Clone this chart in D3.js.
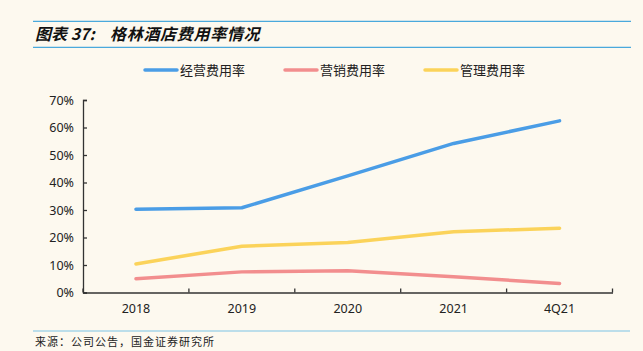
<!DOCTYPE html>
<html>
<head>
<meta charset="utf-8">
<script src="https://cdn.jsdelivr.net/npm/d3@7"></script>
<style>
  body { margin: 0; background: #fdf9ef; }
  svg { display: block; font-family: "Noto Sans CJK SC", "Noto Sans", sans-serif; }
</style>
</head>
<body>
<div id="chart"></div>
<script>
// 格林酒店费用率
const periods = ["2018", "2019", "2020", "2021", "4Q21"];
const opRate = [30.3, 30.8, 42.4, 54.2, 62.4];     // 经营费用率
const salesRate = [5.0, 7.5, 7.9, 5.7, 3.3];       // 营销费用率
const adminRate = [10.4, 16.8, 18.2, 22.1, 23.4];  // 管理费用率
const yTickValues = [0, 10, 20, 30, 40, 50, 60, 70];

const series = [
  { name: "经营费用率", values: opRate, color: "#4a9de6" },
  { name: "营销费用率", values: salesRate, color: "#f28e8e" },
  { name: "管理费用率", values: adminRate, color: "#fbd35a" }
];

const width = 643, height = 351;
const plotLeft = 83, plotRight = 612.5, plotTop = 100, plotBottom = 292.5;

const svg = d3.select('#chart').append('svg')
  .attr('width', width)
  .attr('height', height);

svg.append('rect').attr('width', width).attr('height', height).attr('fill', '#fdf9ef');

// title + rules
svg.append('line').attr('x1', 33).attr('x2', 631).attr('y1', 21.3).attr('y2', 21.3)
  .attr('stroke', '#4aa9dc').attr('stroke-width', 1.2);
svg.append('line').attr('x1', 33).attr('x2', 631).attr('y1', 47.3).attr('y2', 47.3)
  .attr('stroke', '#4aa9dc').attr('stroke-width', 1.2);
svg.append('text')
  .attr('x', 35).attr('y', 40)
  .attr('font-size', 16).attr('font-weight', 'bold').attr('font-style', 'italic')
  .attr('fill', '#111')
  .text('图表 37:');
svg.append('text')
  .attr('x', 110).attr('y', 40)
  .attr('font-size', 16).attr('font-weight', 'bold').attr('font-style', 'italic')
  .attr('letter-spacing', 0.7)
  .attr('fill', '#111')
  .text('格林酒店费用率情况');

// scales
const y = d3.scaleLinear().domain([0, 70]).range([plotBottom, plotTop]);
const xBand = d3.scaleBand().domain(periods).range([plotLeft, plotRight]);

// axes
const yAxis = d3.axisLeft(y).tickValues(yTickValues).tickFormat(d => d + '%').tickSize(-4).tickPadding(9);
const gy = svg.append('g').attr('transform', `translate(${plotLeft},0)`).call(yAxis);
gy.select('.domain').attr('stroke', '#333').attr('stroke-width', 1.3);
gy.selectAll('.tick line').attr('stroke', '#333').attr('stroke-width', 1.3);
gy.selectAll('text').attr('font-size', 12.5).attr('fill', '#222').attr('font-family', '"Noto Sans", sans-serif');

const xAxis = d3.axisBottom(xBand).tickSize(0).tickPadding(12);
const gx = svg.append('g').attr('transform', `translate(0,${plotBottom})`).call(xAxis);
gx.select('.domain').attr('stroke', '#333').attr('stroke-width', 1.3);
gx.selectAll('text').attr('font-size', 12.5).attr('fill', '#222').attr('font-family', '"Noto Sans", sans-serif');

// band boundary ticks pointing up
const bounds = periods.map(p => xBand(p)).concat([xBand(periods[periods.length - 1]) + xBand.bandwidth()]);
svg.append('g').selectAll('line')
  .data(bounds).enter()
  .append('line')
  .attr('x1', d => d).attr('x2', d => d)
  .attr('y1', plotBottom).attr('y2', plotBottom - 4)
  .attr('stroke', '#333').attr('stroke-width', 1.3);

// lines
const line = d3.line()
  .x((d, i) => xBand(periods[i]) + xBand.bandwidth() / 2)
  .y(d => y(d));

svg.append('g').selectAll('path')
  .data(series).enter()
  .append('path')
  .attr('d', d => line(d.values))
  .attr('fill', 'none')
  .attr('stroke', d => d.color)
  .attr('stroke-width', 3.5)
  .attr('stroke-linecap', 'round')
  .attr('stroke-linejoin', 'round');

// legend
const legendX = [145, 285, 425];
const lg = svg.append('g').selectAll('g')
  .data(series).enter()
  .append('g')
  .attr('transform', (d, i) => `translate(${legendX[i]},70)`);
lg.append('line').attr('x1', 0).attr('x2', 32).attr('y1', 0).attr('y2', 0)
  .attr('stroke', d => d.color).attr('stroke-width', 3.5).attr('stroke-linecap', 'round');
lg.append('text').attr('x', 35).attr('y', 4.5)
  .attr('font-size', 13).attr('fill', '#222')
  .text(d => d.name);

// source
svg.append('line').attr('x1', 33).attr('x2', 630).attr('y1', 331).attr('y2', 331)
  .attr('stroke', '#7cc3e6').attr('stroke-width', 1.2);
svg.append('text').attr('x', 35).attr('y', 346)
  .attr('font-size', 11).attr('letter-spacing', 1).attr('fill', '#222')
  .text('来源：公司公告，国金证券研究所');
</script>
</body>
</html>
